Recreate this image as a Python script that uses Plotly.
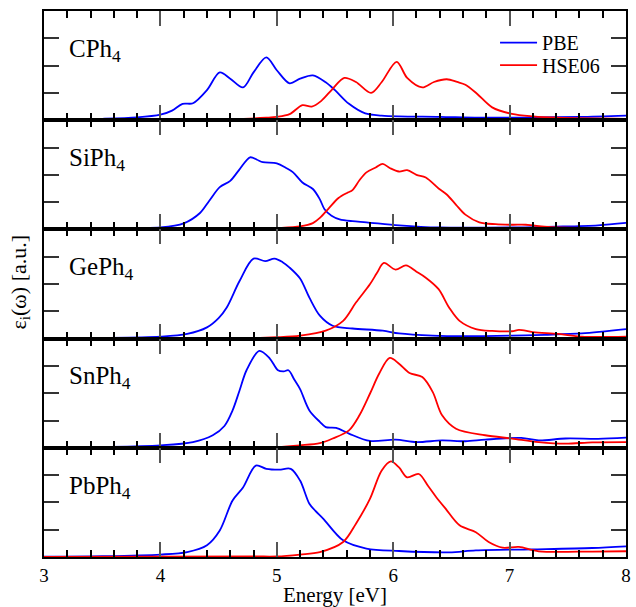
import plotly.graph_objects as go
from plotly.subplots import make_subplots

# Imaginary part of the dielectric function for the tetraphenyl series,
# PBE vs. HSE06 (arbitrary units), energies in eV.
molecules = ["CPh<sub>4</sub>", "SiPh<sub>4</sub>", "GePh<sub>4</sub>",
             "SnPh<sub>4</sub>", "PbPh<sub>4</sub>"]

cph4_pbe_e = [3.0, 3.5, 3.8, 4.0, 4.1, 4.19, 4.28, 4.4, 4.51, 4.6, 4.71, 4.8, 4.91, 5.0,
              5.11, 5.2, 5.31, 5.42, 5.5, 5.62, 5.76, 5.9, 6.05, 6.4, 6.74, 7.2, 7.6, 8.0]
cph4_pbe_v = [0.02, 0.05, 0.1, 0.2, 0.35, 0.6, 0.62, 1.1, 1.75, 1.52, 1.2, 1.75, 2.3, 1.83,
              1.35, 1.52, 1.64, 1.39, 1.1, 0.6, 0.25, 0.17, 0.14, 0.12, 0.09, 0.1, 0.12, 0.17]
cph4_hse_e = [3.0, 4.5, 4.91, 5.0, 5.11, 5.22, 5.3, 5.38, 5.48, 5.58, 5.68, 5.81, 5.9, 6.03,
              6.12, 6.25, 6.35, 6.46, 6.55, 6.62, 6.72, 6.85, 7.02, 7.2, 7.42, 8.0]
cph4_hse_v = [0.0, 0.02, 0.09, 0.12, 0.22, 0.55, 0.5, 0.7, 1.15, 1.55, 1.4, 1.0, 1.39, 2.14,
              1.55, 1.2, 1.4, 1.5, 1.4, 1.3, 0.97, 0.47, 0.23, 0.14, 0.09, 0.05]

siph4_pbe_e = [3.0, 3.5, 3.8, 4.0, 4.2, 4.34, 4.42, 4.51, 4.6, 4.68, 4.77, 4.83, 4.88, 5.0,
               5.08, 5.14, 5.22, 5.31, 5.37, 5.41, 5.47, 5.54, 5.65, 5.77, 6.05, 6.39, 7.02,
               7.4, 7.76, 8.0]
siph4_pbe_v = [0.01, 0.03, 0.05, 0.07, 0.22, 0.6, 1.05, 1.55, 1.78, 2.2, 2.64, 2.55, 2.46, 2.42,
               2.25, 2.09, 1.72, 1.48, 1.1, 0.74, 0.5, 0.37, 0.3, 0.26, 0.15, 0.07, 0.07,
               0.1, 0.15, 0.24]
siph4_hse_e = [3.0, 4.8, 5.0, 5.2, 5.31, 5.37, 5.45, 5.53, 5.61, 5.65, 5.71, 5.77, 5.85, 5.91,
               5.97, 6.05, 6.12, 6.2, 6.28, 6.39, 6.46, 6.54, 6.62, 6.74, 6.88, 7.02, 7.14,
               7.3, 7.42, 8.0]
siph4_hse_v = [0.0, 0.02, 0.05, 0.11, 0.23, 0.42, 0.79, 1.15, 1.35, 1.44, 1.8, 2.09, 2.27, 2.4,
               2.25, 2.12, 2.17, 2.0, 1.9, 1.5, 1.28, 0.9, 0.54, 0.26, 0.19, 0.17, 0.17,
               0.1, 0.07, 0.03]

geph4_pbe_e = [3.0, 3.5, 4.0, 4.23, 4.4, 4.5, 4.57, 4.68, 4.8, 4.9, 4.98, 5.05, 5.11, 5.2,
               5.28, 5.37, 5.48, 5.65, 5.91, 6.05, 6.34, 6.62, 7.02, 7.3, 7.62, 8.0]
geph4_pbe_v = [0.01, 0.02, 0.07, 0.17, 0.41, 0.75, 1.14, 2.11, 2.93, 2.84, 2.93, 2.8, 2.6, 2.2,
               1.5, 0.84, 0.47, 0.37, 0.29, 0.19, 0.11, 0.09, 0.11, 0.14, 0.19, 0.35]
geph4_hse_e = [3.0, 4.8, 5.0, 5.2, 5.42, 5.57, 5.68, 5.8, 5.86, 5.92, 6.02, 6.11, 6.2, 6.28,
               6.39, 6.48, 6.57, 6.71, 6.85, 7.02, 7.08, 7.2, 7.42, 7.62, 8.0]
geph4_hse_v = [0.0, 0.02, 0.05, 0.11, 0.29, 0.65, 1.32, 1.99, 2.4, 2.77, 2.53, 2.68, 2.45, 2.23,
               1.81, 1.14, 0.65, 0.35, 0.28, 0.27, 0.32, 0.24, 0.17, 0.07, 0.07]

snph4_pbe_e = [3.0, 3.5, 4.0, 4.28, 4.45, 4.55, 4.62, 4.68, 4.74, 4.85, 4.94, 5.01, 5.06, 5.1,
               5.15, 5.2, 5.28, 5.37, 5.42, 5.51, 5.62, 5.8, 6.02, 6.2, 6.42, 6.62, 6.79,
               7.1, 7.25, 7.48, 7.76, 8.0]
snph4_pbe_v = [0.01, 0.03, 0.09, 0.21, 0.46, 0.8, 1.37, 2.1, 2.84, 3.55, 3.27, 2.84, 2.8, 2.84,
               2.5, 2.15, 1.37, 0.95, 0.76, 0.73, 0.52, 0.25, 0.3, 0.21, 0.27, 0.24, 0.3,
               0.36, 0.27, 0.34, 0.33, 0.37]
snph4_hse_e = [3.0, 4.8, 5.0, 5.2, 5.37, 5.48, 5.62, 5.71, 5.8, 5.88, 5.97, 6.05, 6.14, 6.25,
               6.34, 6.42, 6.54, 6.79, 7.02, 7.25, 7.48, 7.71, 8.0]
snph4_hse_v = [0.0, 0.02, 0.03, 0.09, 0.17, 0.34, 0.64, 1.19, 1.98, 2.72, 3.29, 3.08, 2.74, 2.59,
               2.04, 1.19, 0.7, 0.46, 0.34, 0.21, 0.15, 0.2, 0.21]

pbph4_pbe_e = [3.0, 3.5, 4.0, 4.23, 4.4, 4.51, 4.62, 4.71, 4.82, 4.91, 5.02, 5.12, 5.2, 5.28,
               5.33, 5.4, 5.57, 5.77, 6.05, 6.48, 6.71, 7.19, 7.71, 8.0]
pbph4_pbe_v = [0.01, 0.03, 0.09, 0.18, 0.43, 0.97, 2.07, 2.55, 3.35, 3.23, 3.2, 3.23, 2.8, 1.95,
               1.7, 1.4, 0.61, 0.31, 0.22, 0.17, 0.24, 0.28, 0.33, 0.39]
pbph4_hse_e = [3.0, 4.8, 5.0, 5.2, 5.37, 5.57, 5.68, 5.8, 5.9, 5.98, 6.05, 6.12, 6.22, 6.3,
               6.37, 6.45, 6.57, 6.71, 6.82, 6.94, 7.08, 7.25, 7.71, 8.0]
pbph4_hse_v = [0.0, 0.02, 0.02, 0.09, 0.18, 0.55, 1.22, 2.13, 3.16, 3.5, 3.28, 2.92, 3.04, 2.6,
               2.19, 1.77, 1.16, 0.91, 0.55, 0.34, 0.37, 0.21, 0.2, 0.21]

pbe_series = [(cph4_pbe_e, cph4_pbe_v), (siph4_pbe_e, siph4_pbe_v), (geph4_pbe_e, geph4_pbe_v),
              (snph4_pbe_e, snph4_pbe_v), (pbph4_pbe_e, pbph4_pbe_v)]
hse_series = [(cph4_hse_e, cph4_hse_v), (siph4_hse_e, siph4_hse_v), (geph4_hse_e, geph4_hse_v),
              (snph4_hse_e, snph4_hse_v), (pbph4_hse_e, pbph4_hse_v)]

x_ticks = [3, 4, 5, 6, 7, 8]
y_ticks = [1, 2, 3]

SERIF = "Liberation Serif, Times New Roman, serif"

fig = make_subplots(rows=5, cols=1, shared_xaxes=True, vertical_spacing=0)

for i in range(5):
    row = i + 1
    e, v = pbe_series[i]
    fig.add_trace(go.Scatter(x=e, y=v, mode="lines", name="PBE", legend="legend",
                             line=dict(color="#0000ff", width=1.8, shape="spline", smoothing=0.9),
                             showlegend=(i == 0)), row=row, col=1)
    e, v = hse_series[i]
    fig.add_trace(go.Scatter(x=e, y=v, mode="lines", name="HSE06", legend="legend2",
                             line=dict(color="#ff0000", width=1.8, shape="spline", smoothing=0.9),
                             showlegend=(i == 0)), row=row, col=1)
    fig.add_annotation(text=molecules[i], xref="x domain" if i == 0 else f"x{row} domain",
                       yref="y domain" if i == 0 else f"y{row} domain",
                       x=0.039, y=0.8, xanchor="left", yanchor="top", showarrow=False,
                       font=dict(family=SERIF, size=25, color="black"))

fig.update_xaxes(range=[3, 8], tickvals=x_ticks, ticks="inside", ticklen=15, tickwidth=2,
                 tickcolor="#555555", showline=True, linecolor="black", linewidth=2,
                 mirror="ticks", showgrid=False, zeroline=False, automargin=False,
                 minor=dict(dtick=0.2, tick0=3, ticks="inside", ticklen=7, tickwidth=1.5,
                            tickcolor="black", showgrid=False),
                 tickfont=dict(family=SERIF, size=19, color="black"))
fig.update_yaxes(range=[0, 4], tickvals=y_ticks, ticks="inside", ticklen=15, tickwidth=1.5,
                 tickcolor="#333333", showticklabels=False, showline=True, linecolor="black",
                 linewidth=2, mirror="ticks", showgrid=False, zeroline=False)
fig.update_xaxes(title=dict(text="Energy [eV]", font=dict(family=SERIF, size=21, color="black"),
                            standoff=6), row=5, col=1)

fig.add_annotation(text="ε<sub>i</sub>(ω) [a.u.]", xref="paper", yref="paper", x=-0.041, y=0.503,
                   xanchor="center", yanchor="middle", textangle=-90, showarrow=False,
                   font=dict(family=SERIF, size=22, color="black"))

legend_style = dict(xanchor="left", yanchor="middle", bgcolor="rgba(0,0,0,0)", itemwidth=37,
                    font=dict(family=SERIF, size=20, color="black"))

fig.update_layout(
    width=636, height=607,
    margin=dict(l=44, r=8, t=11, b=50),
    paper_bgcolor="white", plot_bgcolor="white",
    showlegend=True,
    legend=dict(x=0.775, y=0.942, **legend_style),
    legend2=dict(x=0.775, y=0.901, **legend_style),
)

fig.write_html("out.html")
